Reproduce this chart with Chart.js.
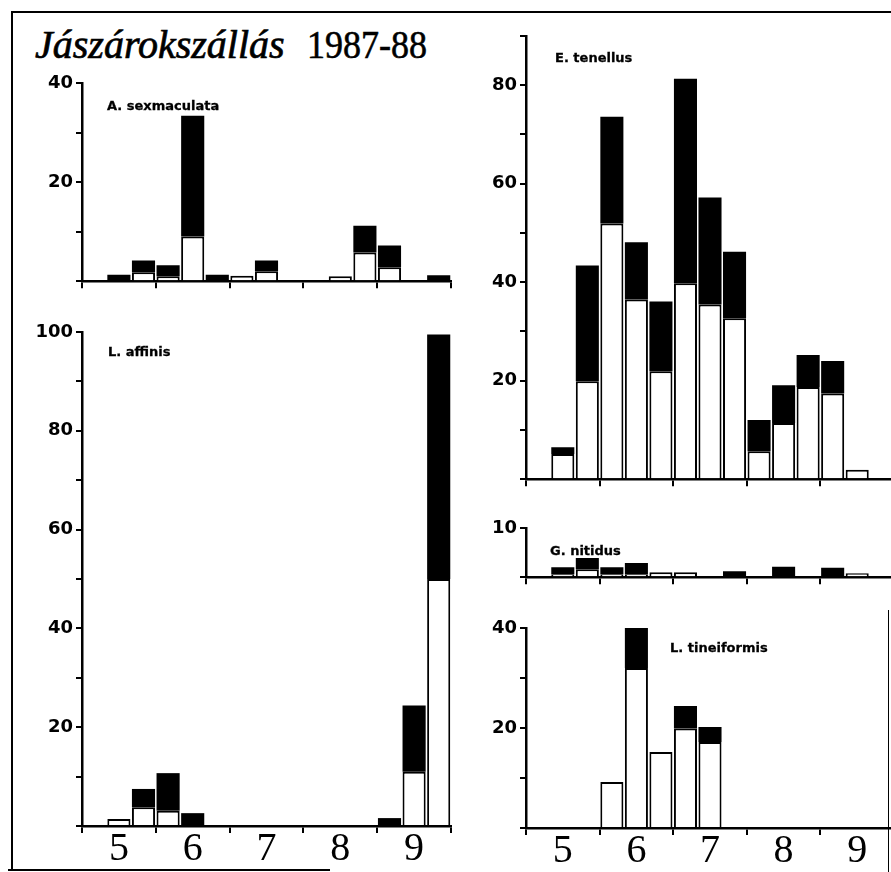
<!DOCTYPE html>
<html><head><meta charset="utf-8">
<script src="https://cdn.jsdelivr.net/npm/chart.js@4.4.0/dist/chart.umd.min.js"></script>
<style>
html,body{margin:0;padding:0;background:#fff;overflow:hidden;}
#page{position:relative;width:891px;height:872px;overflow:hidden;background:#fff;}
canvas{position:absolute;}
.line{position:absolute;background:#000;}
.lbl{position:absolute;font-family:"DejaVu Sans";font-weight:bold;font-size:13px;line-height:13px;color:#000;white-space:nowrap;-webkit-text-stroke:0.3px #000;}
.t1{position:absolute;left:35px;top:25px;font-family:"Liberation Serif";font-style:italic;font-size:40px;line-height:40px;color:#000;white-space:nowrap;-webkit-text-stroke:0.7px #000;}
.t2{position:absolute;left:307px;top:25px;font-family:"Liberation Serif";font-size:40px;line-height:40px;color:#000;white-space:nowrap;transform:scaleX(0.9);transform-origin:0 0;-webkit-text-stroke:0.6px #000;}
</style></head>
<body><div id="page">
<div class="line" style="left:11px;top:11px;width:880px;height:2px;"></div>
<div class="line" style="left:11px;top:11px;width:2px;height:860px;"></div>
<div class="line" style="left:8px;top:869px;width:322px;height:2px;"></div>
<div class="line" style="left:888px;top:610px;width:1px;height:262px;"></div>
<div class="t1">Jászárokszállás</div>
<div class="t2">1987-88</div>
<canvas id="c1"></canvas>
<canvas id="c2"></canvas>
<canvas id="c3"></canvas>
<canvas id="c4"></canvas>
<canvas id="c5"></canvas>
<div class="lbl" style="left:107px;top:99px;">A. sexmaculata</div>
<div class="lbl" style="left:108px;top:345px;">L. affinis</div>
<div class="lbl" style="left:555px;top:51px;">E. tenellus</div>
<div class="lbl" style="left:550px;top:544px;">G. nitidus</div>
<div class="lbl" style="left:670px;top:641px;">L. tineiformis</div>
</div>
<script>
// ten-day periods (dekads), May to September
const dekads = ['V.1','V.2','V.3','VI.1','VI.2','VI.3','VII.1','VII.2','VII.3','VIII.1','VIII.2','VIII.3','IX.1','IX.2','IX.3'];
const monthLabels = ['5','6','7','8','9'];

const sexWhite = [0,0,1.8,1.0,9.0,0,1.1,2.0,0,0,1.0,5.8,2.8,0,0];
const sexBlack = [0,1.3,2.4,2.2,24.4,1.3,0,2.2,0,0,0,5.4,4.4,0,1.2];

const affWhite = [0,1.4,3.8,3.1,0,0,0,0,0,0,0,0,0,11.0,50.0];
const affBlack = [0,0,3.7,7.6,2.6,0,0,0,0,0,0,0,1.6,13.4,49.5];

const tenWhite = [0,5.1,19.9,51.9,36.5,21.9,39.8,35.5,32.7,5.7,11.4,18.7,17.4,1.9,0];
const tenBlack = [0,1.4,23.5,21.7,11.6,14.2,41.5,21.7,13.5,6.3,7.7,6.5,6.6,0,0];

const nitWhite = [0,0.6,1.6,0.6,0.6,1.0,1.0,0,0,0,0,0,0,0.8,0];
const nitBlack = [0,1.4,2.3,1.4,2.3,0,0,0,1.2,0,2.1,0,1.9,0,0];

const tinWhite = [0,0,0,9.2,32.0,15.2,19.9,17.2,0,0,0,0,0,0,0];
const tinBlack = [0,0,0,0,8.2,0,4.5,3.0,0,0,0,0,0,0,0];

const sexTicks = [20,40];
const affTicks = [20,40,60,80,100];
const tenTicks = [20,40,60,80];
const nitTicks = [10];
const tinTicks = [20,40];

const YW = 60, PT = 14, PR = 2;

function panel(id, o) {
  const XH = o.months ? 48 : 12;
  const cv = document.getElementById(id);
  const w = YW + o.w + PR, h = PT + o.h + XH;
  cv.width = w; cv.height = h;
  cv.style.left = (o.x - YW) + 'px';
  cv.style.top = (o.y - PT) + 'px';
  cv.style.width = w + 'px'; cv.style.height = h + 'px';
  new Chart(cv, {
    type: 'bar',
    data: {
      labels: dekads,
      datasets: [
        {data: o.white.map(v => v || null), backgroundColor:'#fff', borderColor:'#000', borderWidth:2,
         borderSkipped:'start', barPercentage:0.94, categoryPercentage:1},
        {data: o.black.map(v => v || null), backgroundColor:'#000', borderColor:'#000', borderWidth:0,
         barPercentage:0.94, categoryPercentage:1}
      ]
    },
    options: {
      responsive:false, animation:false, devicePixelRatio:1,
      layout:{padding:{top:PT, right:PR, left:0, bottom:0}},
      plugins:{legend:{display:false}, tooltip:{enabled:false}, title:{display:false}},
      scales:{
        x:{
          type:'category', stacked:true, offset:true,
          grid:{display:true, drawOnChartArea:false, drawTicks:true, tickLength:7, lineWidth:2, offset:true,
                color: c => (c.index === undefined || c.index % 3 === 0) ? '#000' : 'rgba(0,0,0,0)'},
          border:{display:true, color:'#000', width:2.5},
          ticks:{display:!!o.months, autoSkip:false, maxRotation:0, minRotation:0, padding:0, color:'#000',
                 font:{family:'"Liberation Serif"', size:40, lineHeight:0.8},
                 callback:(v, i) => i % 3 === 1 ? monthLabels[(i - 1) / 3] : ''},
          afterFit: s => { s.height = XH; }
        },
        y:{
          stacked:true, min:0, max:o.max,
          grid:{drawOnChartArea:false, drawTicks:true, tickLength:6, lineWidth:2, color:'#000'},
          border:{display:true, color:'#000', width:2.5},
          ticks:{stepSize:10, padding:3, color:'#000', autoSkip:false,
                 font:{family:'"DejaVu Sans"', weight:'bold', size:18},
                 callback: v => o.ticks.includes(v) ? String(v) : ''},
          afterFit: s => { s.width = YW; }
        }
      }
    }
  });
}

panel('c1', {x:82, y:83, w:369, h:200, max:40, ticks:sexTicks, white:sexWhite, black:sexBlack, months:false});
panel('c2', {x:82, y:332, w:369, h:494, max:100, ticks:affTicks, white:affWhite, black:affBlack, months:true});
panel('c3', {x:526, y:36, w:368, h:445, max:90, ticks:tenTicks, white:tenWhite, black:tenBlack, months:false});
panel('c4', {x:526, y:528, w:368, h:51, max:10, ticks:nitTicks, white:nitWhite, black:nitBlack, months:false});
panel('c5', {x:526, y:628, w:368, h:200, max:40, ticks:tinTicks, white:tinWhite, black:tinBlack, months:true});
</script>
</body></html>
